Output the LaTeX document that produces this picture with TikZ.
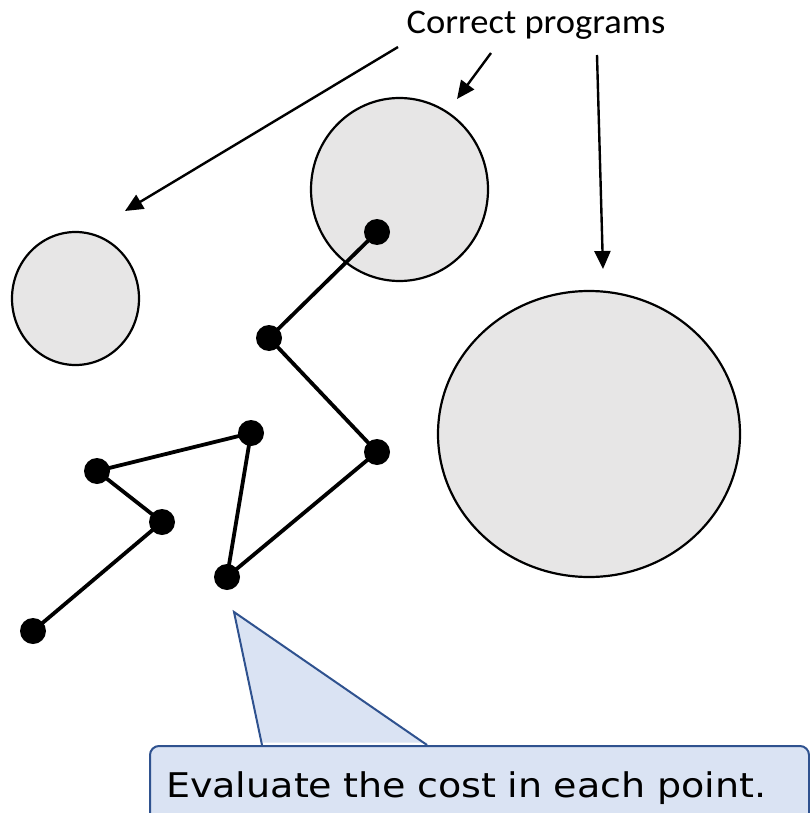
\documentclass[tikz,border=0pt]{standalone}
\usepackage{fontspec}
\usetikzlibrary{arrows.meta}
\newfontfamily\labelfont[FakeStretch=1.06]{Carlito}
\newfontfamily\notefont[FakeStretch=1.12]{DejaVu Sans}
\definecolor{regionfill}{HTML}{E7E6E6}
\definecolor{notefill}{HTML}{DAE3F3}
\definecolor{noteline}{HTML}{2F528F}
\begin{document}
\begin{tikzpicture}[x=1pt,y=-1pt,
  region/.style={draw=black,line width=2.2pt,fill=regionfill},
  pt/.style={circle,fill=black,inner sep=0pt,minimum size=26pt},
  walk/.style={line width=3.8pt},
  pointer/.style={line width=2.4pt,-{Triangle[length=18pt,width=16pt]}},
  notebox/.style={draw=noteline,line width=2pt,fill=notefill,rounded corners=9pt},
]
\useasboundingbox (0,0) rectangle (810,813);
\clip (0,0) rectangle (810,813);

% regions of correct programs
\draw[region] (75.5,298.5) ellipse [x radius=63.5, y radius=66.5];
\draw[region] (399.5,189.5) ellipse [x radius=88.5, y radius=91.5];
\draw[region] (589,434) ellipse [x radius=151, y radius=143];

% label and its pointers
\node[font=\labelfont\fontsize{34.5}{40}\selectfont,anchor=base,inner sep=0pt] (lbl) at (536,34) {Correct programs};
\coordinate (s1) at (398,47);  \coordinate (t1) at (125,211);
\coordinate (s2) at (491,53);  \coordinate (t2) at (457,99);
\coordinate (s3) at (597,55);  \coordinate (t3) at (603,269);
\draw[pointer] (s1) -- (t1);
\draw[pointer] (s2) -- (t2);
\draw[pointer] (s3) -- (t3);

% search walk
\node[pt] (a) at (377,232) {};
\node[pt] (b) at (269,338) {};
\node[pt] (c) at (377,452) {};
\node[pt] (d) at (227,577) {};
\node[pt] (e) at (251,433) {};
\node[pt] (f) at (97,471) {};
\node[pt] (g) at (162,522) {};
\node[pt] (h) at (33,631) {};
\draw[walk] (a.center) -- (b.center) -- (c.center) -- (d.center) -- (e.center)
  -- (f.center) -- (g.center) -- (h.center);

% callout
\node[notebox,anchor=north west,inner xsep=16pt,inner ysep=0pt,
  text width=627pt,align=left,text height=51pt,text depth=40pt,
  font=\notefont\fontsize{34}{40}\selectfont] (note) at (149,745)
  {Evaluate the cost in each point.};
\coordinate (tip) at (234,612);
\coordinate (tl) at (262,745);
\coordinate (tr) at (427,745);
\fill[notefill] (tl) -- (tip) -- (tr) -- ([yshift=2.5pt]tr) -- ([yshift=2.5pt]tl) -- cycle;
\draw[noteline,line width=2pt,line join=miter] (tl) -- (tip) -- (tr);
\end{tikzpicture}
\end{document}
